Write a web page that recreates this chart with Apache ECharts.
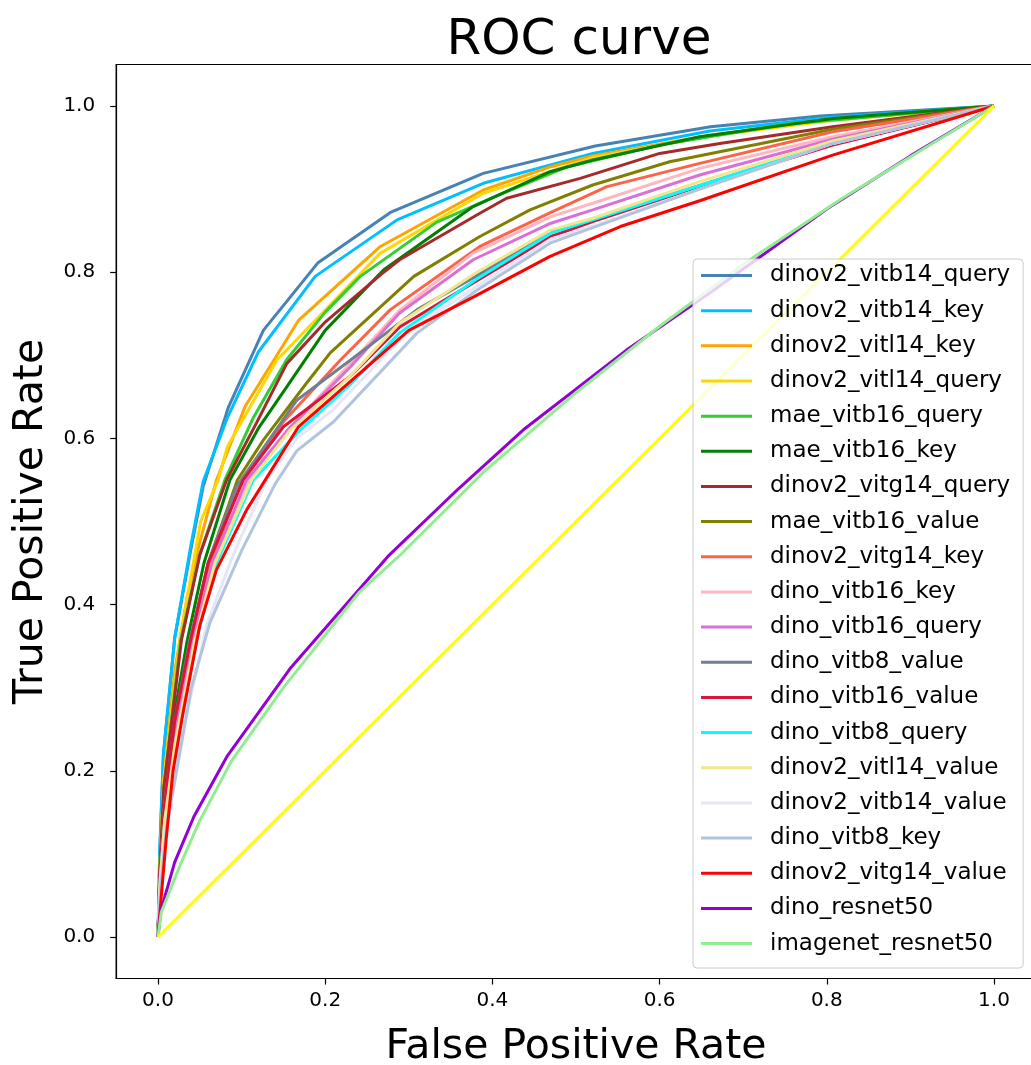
<!DOCTYPE html>
<html><head><meta charset="utf-8">
<script src="https://cdn.jsdelivr.net/npm/echarts@6/dist/echarts.min.js"></script>
<style>html,body{margin:0;padding:0;background:#fff}#c{width:1031px;height:1065px}</style>
</head><body><div id="c"></div>
<script>
// ---- data: [FPR, TPR] points ----
const seriesNames = ["dinov2_vitb14_query","dinov2_vitb14_key","dinov2_vitl14_key","dinov2_vitl14_query","mae_vitb16_query","mae_vitb16_key","dinov2_vitg14_query","mae_vitb16_value","dinov2_vitg14_key","dino_vitb16_key","dino_vitb16_query","dino_vitb8_value","dino_vitb16_value","dino_vitb8_query","dinov2_vitl14_value","dinov2_vitb14_value","dino_vitb8_key","dinov2_vitg14_value","dino_resnet50","imagenet_resnet50"];
const dinov2_vitb14_query = [[0,0],[0.002,0.1],[0.0065,0.22],[0.02,0.36],[0.04,0.47],[0.054,0.542],[0.084,0.637],[0.126,0.73],[0.191,0.811],[0.278,0.872],[0.389,0.919],[0.523,0.952],[0.661,0.975],[0.792,0.988],[1,1]];
const dinov2_vitb14_key = [[0,0],[0.002,0.1],[0.0065,0.22],[0.02,0.36],[0.04,0.475],[0.054,0.548],[0.083,0.625],[0.12,0.704],[0.188,0.795],[0.286,0.863],[0.389,0.907],[0.52,0.943],[0.66,0.97],[0.8,0.986],[1,1]];
const dinov2_vitl14_key = [[0,0],[0.002,0.08],[0.007,0.19],[0.02,0.32],[0.035,0.41],[0.05,0.475],[0.07,0.55],[0.104,0.638],[0.168,0.742],[0.266,0.831],[0.389,0.899],[0.47,0.927],[0.52,0.94],[0.66,0.965],[0.8,0.983],[1,1]];
const dinov2_vitl14_query = [[0,0],[0.002,0.08],[0.007,0.19],[0.026,0.357],[0.051,0.5],[0.072,0.55],[0.083,0.59],[0.142,0.694],[0.266,0.823],[0.389,0.895],[0.52,0.938],[0.66,0.964],[0.8,0.982],[1,1]];
const mae_vitb16_query = [[0,0],[0.002,0.075],[0.007,0.18],[0.027,0.357],[0.05,0.46],[0.08,0.55],[0.114,0.625],[0.154,0.695],[0.2,0.752],[0.242,0.795],[0.333,0.86],[0.405,0.892],[0.49,0.927],[0.6,0.953],[0.75,0.978],[1,1]];
const mae_vitb16_key = [[0,0],[0.002,0.07],[0.008,0.17],[0.02,0.27],[0.035,0.357],[0.055,0.45],[0.086,0.55],[0.12,0.612],[0.154,0.662],[0.2,0.73],[0.27,0.803],[0.377,0.879],[0.469,0.921],[0.52,0.935],[0.648,0.963],[0.807,0.985],[1,1]];
const dinov2_vitg14_query = [[0,0],[0.002,0.075],[0.007,0.18],[0.028,0.357],[0.05,0.46],[0.082,0.55],[0.118,0.619],[0.154,0.69],[0.2,0.74],[0.27,0.8],[0.289,0.815],[0.385,0.871],[0.417,0.889],[0.505,0.913],[0.6,0.943],[0.672,0.955],[0.807,0.975],[1,1]];
const mae_vitb16_value = [[0,0],[0.002,0.06],[0.008,0.15],[0.02,0.25],[0.04,0.357],[0.06,0.45],[0.095,0.55],[0.126,0.598],[0.178,0.667],[0.206,0.703],[0.306,0.795],[0.385,0.843],[0.445,0.875],[0.52,0.905],[0.612,0.933],[0.672,0.945],[0.807,0.972],[1,1]];
const dinov2_vitg14_key = [[0,0],[0.002,0.07],[0.008,0.16],[0.02,0.25],[0.04,0.357],[0.06,0.44],[0.1,0.55],[0.15,0.62],[0.218,0.694],[0.278,0.755],[0.385,0.831],[0.47,0.872],[0.537,0.903],[0.648,0.931],[0.807,0.969],[1,1]];
const dino_vitb16_key = [[0,0],[0.002,0.06],[0.008,0.15],[0.02,0.24],[0.042,0.357],[0.065,0.45],[0.11,0.55],[0.155,0.61],[0.23,0.69],[0.29,0.755],[0.377,0.823],[0.47,0.867],[0.52,0.883],[0.648,0.925],[0.807,0.963],[1,1]];
const dino_vitb16_query = [[0,0],[0.002,0.06],[0.008,0.15],[0.02,0.24],[0.042,0.357],[0.065,0.45],[0.106,0.55],[0.155,0.61],[0.23,0.686],[0.289,0.751],[0.377,0.815],[0.47,0.859],[0.52,0.875],[0.648,0.917],[0.807,0.96],[1,1]];
const dino_vitb8_value = [[0,0],[0.002,0.07],[0.008,0.16],[0.02,0.26],[0.038,0.357],[0.06,0.45],[0.094,0.542],[0.166,0.646],[0.23,0.694],[0.31,0.755],[0.38,0.795],[0.47,0.848],[0.52,0.864],[0.65,0.905],[0.807,0.955],[1,1]];
const dino_vitb16_value = [[0,0],[0.002,0.07],[0.008,0.16],[0.02,0.26],[0.039,0.357],[0.06,0.45],[0.102,0.55],[0.15,0.614],[0.23,0.675],[0.289,0.734],[0.38,0.789],[0.47,0.843],[0.52,0.861],[0.65,0.904],[0.807,0.953],[1,1]];
const dino_vitb8_query = [[0,0],[0.002,0.06],[0.008,0.14],[0.02,0.22],[0.046,0.357],[0.07,0.45],[0.114,0.55],[0.17,0.61],[0.23,0.665],[0.289,0.727],[0.38,0.791],[0.47,0.847],[0.52,0.863],[0.65,0.905],[0.807,0.955],[1,1]];
const dinov2_vitl14_value = [[0,0],[0.002,0.06],[0.008,0.14],[0.02,0.23],[0.044,0.357],[0.068,0.45],[0.112,0.55],[0.158,0.61],[0.23,0.675],[0.289,0.739],[0.38,0.799],[0.47,0.851],[0.52,0.865],[0.648,0.909],[0.807,0.958],[1,1]];
const dinov2_vitb14_value = [[0,0],[0.002,0.05],[0.008,0.12],[0.024,0.221],[0.058,0.375],[0.09,0.46],[0.13,0.55],[0.166,0.6],[0.21,0.635],[0.3,0.73],[0.38,0.782],[0.47,0.84],[0.529,0.858],[0.648,0.9],[0.807,0.955],[1,1]];
const dino_vitb8_key = [[0,0],[0.003,0.06],[0.01,0.13],[0.026,0.221],[0.04,0.3],[0.062,0.378],[0.1,0.465],[0.14,0.545],[0.166,0.585],[0.21,0.62],[0.31,0.727],[0.381,0.778],[0.469,0.835],[0.529,0.857],[0.648,0.9],[0.807,0.955],[1,1]];
const dinov2_vitg14_value = [[0,0],[0.004,0.05],[0.01,0.12],[0.018,0.2],[0.03,0.27],[0.05,0.375],[0.07,0.442],[0.106,0.514],[0.168,0.614],[0.3,0.73],[0.377,0.77],[0.469,0.819],[0.553,0.855],[0.648,0.886],[0.807,0.941],[1,1]];
const dino_resnet50 = [[0,0],[0.003,0.03],[0.02,0.09],[0.043,0.145],[0.083,0.218],[0.158,0.323],[0.275,0.458],[0.36,0.54],[0.439,0.612],[0.56,0.706],[0.66,0.775],[0.8,0.876],[0.9,0.94],[1,1]];
const imagenet_resnet50 = [[0,0],[0.004,0.03],[0.028,0.09],[0.05,0.14],[0.088,0.212],[0.15,0.3],[0.24,0.414],[0.29,0.46],[0.39,0.56],[0.5,0.655],[0.6,0.735],[0.708,0.815],[0.82,0.89],[0.91,0.945],[1,1]];
const chanceLine = [[0,0],[1,1]];
const tickValues = [0,0.2,0.4,0.6,0.8,1.0];

const seriesData = [dinov2_vitb14_query,dinov2_vitb14_key,dinov2_vitl14_key,dinov2_vitl14_query,mae_vitb16_query,mae_vitb16_key,dinov2_vitg14_query,mae_vitb16_value,dinov2_vitg14_key,dino_vitb16_key,dino_vitb16_query,dino_vitb8_value,dino_vitb16_value,dino_vitb8_query,dinov2_vitl14_value,dinov2_vitb14_value,dino_vitb8_key,dinov2_vitg14_value,dino_resnet50,imagenet_resnet50];
const colors = ["#4682B4","#00BFFF","#FFA500","#FFD700","#32CD32","#008000","#A52A2A","#808000","#FF6347","#FFB6C1","#DA70D6","#708090","#DC143C","#00FFFF","#F0E68C","#E6E6FA","#B0C4DE","#FF0000","#9400D3","#90EE90"];

const FONT = "DejaVu Sans";
const LW = 3;
const series = seriesNames.map((n,i)=>({
  name:n, type:'line', data:seriesData[i], symbol:'none', showSymbol:false,
  color:colors[i], lineStyle:{color:colors[i], width:LW}, itemStyle:{color:colors[i]},
  silent:true, z:2
}));
series.push({name:'chance', type:'line', data:chanceLine, symbol:'none', color:'#FFFF00',
  lineStyle:{color:'#FFFF00', width:LW}, silent:true, z:2});

const chart = echarts.init(document.getElementById('c'), null, {renderer:'canvas'});
chart.setOption({
  animation:false,
  backgroundColor:'#fff',
  title:{text:'ROC curve', left:574, textAlign:'center', top:11,
    textStyle:{fontFamily:FONT, fontSize:50, fontWeight:'normal', color:'#000'}},
  grid:{left:116.2, top:64.5, width:919.6, height:914, show:true, borderColor:'#000', borderWidth:1.2,
    containLabel:false, outerBoundsMode:'none'},
  xAxis:{type:'value', min:-0.05, max:1.05,
    name:'False Positive Rate', nameLocation:'middle', nameGap:48,
    nameTextStyle:{fontFamily:FONT, fontSize:41, color:'#000'},
    axisLine:{show:true, onZero:false, lineStyle:{color:'#000', width:1.2}},
    axisTick:{show:true, inside:false, length:6, customValues:tickValues, lineStyle:{color:'#000', width:1.2}},
    axisLabel:{show:true, customValues:tickValues, margin:12, fontFamily:FONT, fontSize:20, color:'#000',
      formatter:v=>v.toFixed(1)},
    splitLine:{show:false}},
  yAxis:{type:'value', min:-0.05, max:1.05,
    name:'True Positive Rate', nameLocation:'middle', nameGap:64, nameRotate:90,
    nameTextStyle:{fontFamily:FONT, fontSize:41, color:'#000'},
    axisLine:{show:true, onZero:false, lineStyle:{color:'#000', width:1.2}},
    axisTick:{show:true, inside:false, length:6, customValues:tickValues, lineStyle:{color:'#000', width:1.2}},
    axisLabel:{show:true, customValues:tickValues, margin:21, fontFamily:FONT, fontSize:20, color:'#000',
      formatter:v=>v.toFixed(1)},
    splitLine:{show:false}},
  legend:{data:seriesNames, orient:'vertical', left:693, top:259,
    icon:'rect', itemWidth:51, itemHeight:3, itemGap:12.16,
    padding:[5,13,13,8], backgroundColor:'rgba(255,255,255,0.8)',
    borderColor:'#cccccc', borderWidth:1, borderRadius:4,
    textStyle:{fontFamily:FONT, fontSize:23, lineHeight:23, color:'#000', padding:[0,0,0,13]},
    selectedMode:false, z:10},
  series:series
});
</script></body></html>
